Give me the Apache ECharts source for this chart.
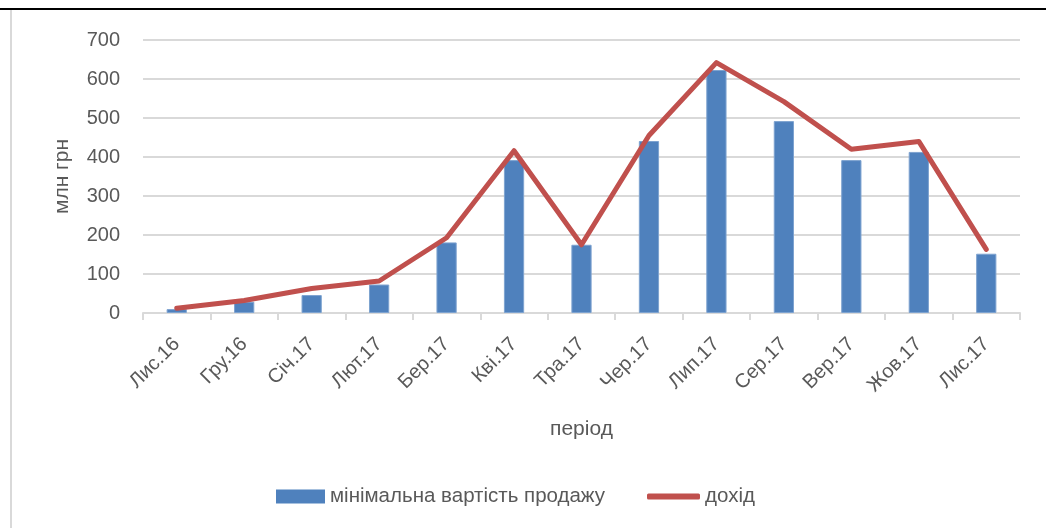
<!DOCTYPE html>
<html>
<head>
<meta charset="utf-8">
<script src="https://cdn.jsdelivr.net/npm/echarts@6/dist/echarts.min.js"></script>
<style>html,body{margin:0;padding:0;background:#fff}#c{width:1046px;height:528px}</style>
</head>
<body>
<div id="c"></div>
<script>
const categories = ['Лис.16','Гру.16','Січ.17','Лют.17','Бер.17','Кві.17','Тра.17','Чер.17','Лип.17','Сер.17','Вер.17','Жов.17','Лис.17'];
const minSaleValue = [10, 29, 46, 73, 181, 392, 175, 441, 623, 492, 392, 413, 152];
const income = [12, 32, 63, 82, 193, 416, 175, 455, 642, 542, 420, 440, 163];
const yTicks = [0, 100, 200, 300, 400, 500, 600, 700];

const FONT = '"Liberation Sans", "Open Sans", sans-serif';
const TXT = '#595959';
const chart = echarts.init(document.getElementById('c'));
chart.setOption({
  animation: false,
  textStyle: { fontFamily: FONT },
  graphic: [
    { type: 'line', shape: { x1: 0, y1: 9, x2: 1046, y2: 9 }, style: { stroke: '#000', lineWidth: 2 } },
    { type: 'line', shape: { x1: 11, y1: 10, x2: 11, y2: 528 }, style: { stroke: '#d9d9d9', lineWidth: 2 } }
  ],
  grid: { left: 143, right: 26, top: 40, bottom: 215, containLabel: false },
  legend: [
    {
      left: 271, top: 481,
      itemWidth: 49, itemHeight: 14,
      itemStyle: { borderWidth: 0 },
      textStyle: { fontSize: 20.5, color: TXT, fontFamily: FONT },
      data: [{ name: 'мінімальна вартість продажу', icon: 'rect' }]
    },
    {
      left: 642, top: 481,
      itemWidth: 53, itemHeight: 6,
      textStyle: { fontSize: 20.5, color: TXT, fontFamily: FONT },
      data: [{ name: 'дохід', icon: 'roundRect' }]
    }
  ],
  xAxis: {
    type: 'category',
    data: categories,
    boundaryGap: true,
    name: 'період',
    nameLocation: 'middle',
    nameGap: 106,
    nameTextStyle: { fontSize: 21, color: TXT },
    axisLine: { lineStyle: { color: '#d9d9d9', width: 2 } },
    axisTick: { show: true, length: 7, lineStyle: { color: '#d9d9d9', width: 2 } },
    axisLabel: { rotate: 45, fontSize: 20, color: TXT, margin: 28, interval: 0 }
  },
  yAxis: {
    type: 'value',
    min: 0,
    max: 700,
    interval: 100,
    name: 'млн грн',
    nameLocation: 'middle',
    nameGap: 70,
    nameRotate: 90,
    nameTextStyle: { fontSize: 21, color: TXT },
    axisLine: { show: false },
    axisTick: { show: false },
    axisLabel: { fontSize: 20, color: TXT, margin: 23,
      formatter: v => yTicks.includes(v) ? String(v) : '' },
    splitLine: { lineStyle: { color: '#d9d9d9', width: 2 } }
  },
  series: [
    {
      name: 'мінімальна вартість продажу',
      type: 'bar',
      data: minSaleValue,
      barWidth: '30%',
      itemStyle: { color: '#4F81BD', borderColor: '#7ea3d0', borderWidth: 1 }
    },
    {
      name: 'дохід',
      type: 'line',
      data: income,
      symbol: 'none',
      lineStyle: { color: '#C0504D', width: 5, cap: 'round', join: 'round' },
      itemStyle: { color: '#C0504D' }
    }
  ]
});
</script>
</body>
</html>
